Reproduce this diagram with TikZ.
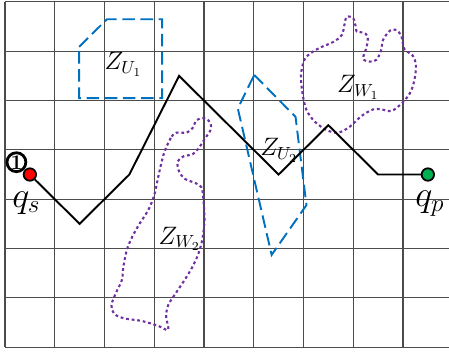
\documentclass[tikz,border=0pt]{standalone}
\usepackage{amsmath,amssymb}
\usepackage{tikz}
\usepackage{xcolor}

\definecolor{zoneblue}{RGB}{0,112,192}
\definecolor{zonepurple}{RGB}{112,48,160}
\definecolor{goalgreen}{RGB}{0,176,80}

\begin{document}
\begin{tikzpicture}[x=1cm,y=0.991cm,
    gridline/.style={black!70,line width=0.6pt},
    zoneU/.style={zoneblue,line width=1.1pt,dash pattern=on 7.2pt off 3.2pt},
    zoneW/.style={zonepurple,line width=1.2pt,dash pattern=on 1.6pt off 1.6pt},
    route/.style={black,line width=1.1pt},
    endpt/.style={circle,draw=black,line width=1pt,minimum size=0.25cm,inner sep=0pt},
    zlabel/.style={font=\fontsize{14.5}{16}\selectfont},
    qlabel/.style={font=\fontsize{20}{22}\selectfont}]
    \useasboundingbox (-0.1,-0.08) rectangle (8.925,7.04);

    \foreach \x in {0,...,8} {
        \draw[gridline] (\x,0) -- (\x,7);
    }
    \foreach \y in {0,...,7} {
        \draw[gridline] (0,\y) -- (8.925,\y);
    }

    \draw[zoneU] (1.49,6.09) -- (2.05,6.65) -- (3.16,6.65) -- (3.16,5.05) -- (1.49,5.05) -- cycle;
    \draw[zoneU] (5.01,5.52) -- (5.84,4.67) -- (6.06,2.88) -- (5.36,1.87) -- (4.68,4.84) -- cycle;

    \draw[zoneW] plot[smooth cycle,tension=0.55] coordinates {
        (6.87,6.70) (7.00,6.67) (7.05,6.50) (7.07,6.40) (7.20,6.38) (7.29,6.30)
        (7.27,6.09) (7.20,5.85) (7.34,5.79) (7.47,5.83) (7.56,6.02) (7.60,6.23)
        (7.74,6.42) (7.87,6.43) (7.97,6.30) (8.03,6.04) (8.19,5.92) (8.26,5.72)
        (8.23,5.42) (8.14,5.15) (7.97,4.94) (7.77,4.79) (7.57,4.82) (7.40,4.82)
        (7.17,4.69) (6.93,4.47) (6.70,4.35) (6.47,4.40) (6.23,4.57) (6.06,4.81)
        (5.98,5.15) (5.95,5.52) (6.02,5.83) (6.17,5.98) (6.37,6.09) (6.60,6.19)
        (6.77,6.33) (6.83,6.57)};
    \draw[zoneW] plot[smooth cycle,tension=0.55] coordinates {
        (3.22,4.00) (3.35,4.27) (3.45,4.35) (3.65,4.35) (3.77,4.44) (3.85,4.60)
        (4.01,4.64) (4.13,4.55) (4.13,4.40) (4.02,4.23) (3.89,4.03) (3.77,3.91)
        (3.59,3.87) (3.47,3.76) (3.50,3.56) (3.62,3.41) (3.82,3.33) (3.95,3.24)
        (3.99,2.98) (4.01,2.58) (3.97,2.20) (3.89,1.90) (3.77,1.63) (3.61,1.36)
        (3.43,1.09) (3.28,0.85) (3.24,0.62) (3.28,0.35) (3.08,0.43) (2.75,0.53)
        (2.41,0.58) (2.20,0.67) (2.14,0.85) (2.24,1.12) (2.35,1.36) (2.38,1.63)
        (2.45,1.97) (2.56,2.24) (2.71,2.51) (2.88,2.78) (3.00,3.08) (3.08,3.45)
        (3.15,3.76)};

    \node[endpt,fill=red] (qs) at (0.5,3.5) {};
    \node[endpt,fill=goalgreen] (qp) at (8.5,3.5) {};
    \coordinate (r1) at (1.5,2.5);
    \coordinate (r2) at (2.5,3.5);
    \coordinate (r3) at (3.5,5.5);
    \coordinate (r4) at (5.5,3.5);
    \coordinate (r5) at (6.5,4.5);
    \coordinate (r6) at (7.5,3.5);
    \draw[route] (qs) -- (r1) -- (r2) -- (r3) -- (r4) -- (r5) -- (r6) -- (qp);

    \node[draw,circle,line width=1.6pt,inner sep=0pt,minimum size=0.38cm,
        font=\bfseries\fontsize{12}{12}\selectfont] (start) at (0.23,3.75) {1};
    \node[qlabel] (qslabel) at (0.43,2.92) {$q_s$};
    \node[qlabel] (qplabel) at (8.54,2.91) {$q_p$};

    \node[zlabel] (zu1) at (2.38,5.73) {$Z_{U_1}$};
    \node[zlabel] (zu2) at (5.51,3.99) {$Z_{U_2}$};
    \node[zlabel] (zw1) at (7.10,5.27) {$Z_{W_1}$};
    \node[zlabel] (zw2) at (3.51,2.20) {$Z_{W_2}$};
\end{tikzpicture}
\end{document}
